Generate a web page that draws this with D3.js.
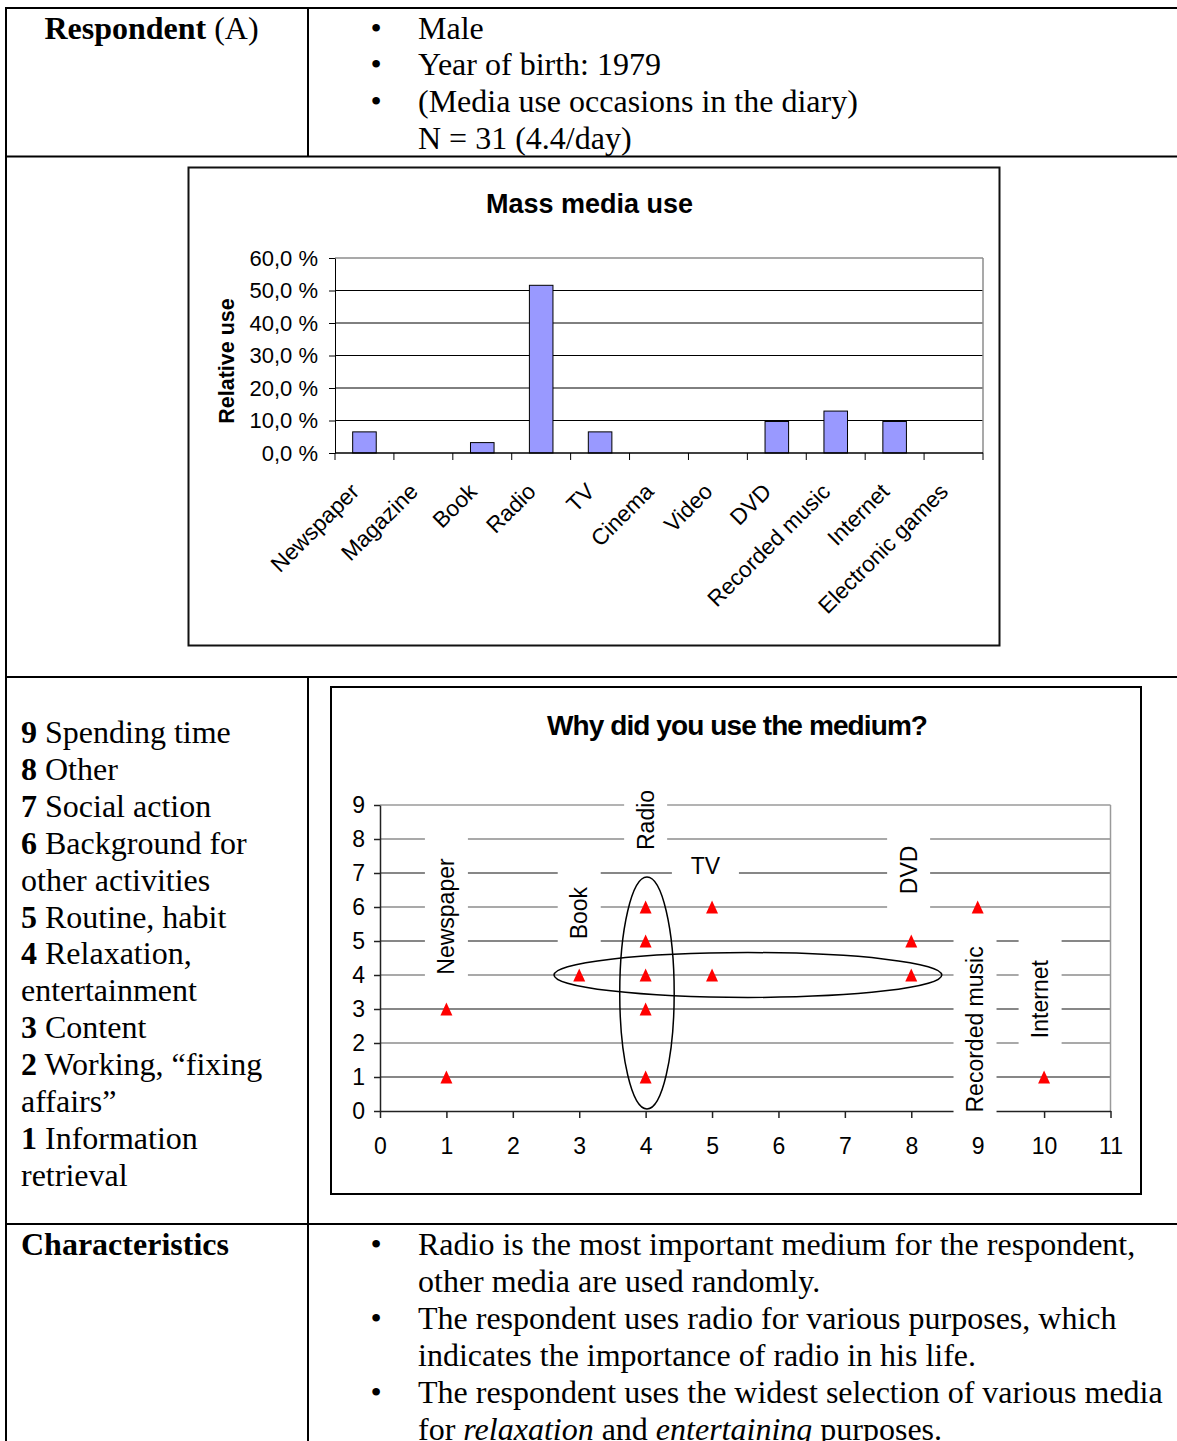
<!DOCTYPE html>
<html>
<head>
<meta charset="utf-8">
<script src="https://cdn.jsdelivr.net/npm/d3@7"></script>
<style>
  html, body { margin: 0; padding: 0; background: #fff; }
  svg { display: block; }
</style>
</head>
<body>
<svg id="page" width="1177" height="1441"></svg>
<script>
// ---------------- data ----------------
const respondentFacts = ["Male", "Year of birth: 1979", "(Media use occasions in the diary)"];
const respondentCount = "N = 31 (4.4/day)";

const mediaCategories = ["Newspaper", "Magazine", "Book", "Radio", "TV", "Cinema",
  "Video", "DVD", "Recorded music", "Internet", "Electronic games"];
const relativeUse = [6.5, 0, 3.2, 51.6, 6.5, 0, 0, 9.7, 12.9, 9.7, 0];
const useTicks = [0, 10, 20, 30, 40, 50, 60];

const reasonCodes = [9, 8, 7, 6, 5, 4, 3, 2, 1];
const reasonLabels = ["Spending time", "Other", "Social action", "Background for|other activities",
  "Routine, habit", "Relaxation,|entertainment", "Content", "Working, \u201cfixing|affairs\u201d",
  "Information|retrieval"];

// each diary entry: medium number (x) and reason code (y)
const entryMedium = [1, 1, 3, 4, 4, 4, 4, 4, 5, 5, 8, 8, 9, 10];
const entryReason = [1, 3, 4, 1, 3, 4, 5, 6, 4, 6, 4, 5, 6, 1];
const mediumTicks = d3.range(0, 12);
const reasonTicks = d3.range(0, 10);

// medium names written into the plot
const mediumNames = ["Newspaper", "Book", "Radio", "TV", "DVD", "Recorded music", "Internet"];
const mediumNameX = [1, 3, 4, 4.9, 7.96, 8.96, 9.94];
const mediumNameY = [5.72, 5.82, 8.56, 7.2, 7.09, 2.4, 3.29];
const mediumNameVertical = [true, true, true, false, true, true, true];

// highlighted groups (centre and radii in data units)
const groupCx = [4.02, 5.54];
const groupCy = [3.47, 4.0];
const groupRx = [0.41, 2.92];
const groupRy = [3.41, 0.66];

const characteristics = [
  [[{t: "Radio is the most important medium for the respondent,"}], [{t: "other media are used randomly."}]],
  [[{t: "The respondent uses radio for various purposes, which"}], [{t: "indicates the importance of radio in his life."}]],
  [[{t: "The respondent uses the widest selection of various media"}],
   [{t: "for "}, {t: "relaxation", i: true}, {t: " and "}, {t: "entertaining", i: true}, {t: " purposes."}]]
];

// ---------------- page setup ----------------
const SERIF = "'Liberation Serif','Times New Roman',Times,serif";
const SANS = "'Liberation Sans',Arial,Helvetica,sans-serif";
const serifSize = 32, lineStep = 36.9;

const svg = d3.select("#page");

function serifLine(x, y, runs, anchor) {
  const t = svg.append("text")
    .attr("x", x).attr("y", y)
    .attr("font-family", SERIF).attr("font-size", serifSize)
    .attr("text-anchor", anchor || "start").attr("fill", "#000");
  runs.forEach(r => t.append("tspan").text(r.t)
    .attr("font-weight", r.b ? "bold" : null)
    .attr("font-style", r.i ? "italic" : null));
  return t;
}
function bullet(x, y) { serifLine(x, y, [{t: "\u2022"}], "middle"); }

// table rules
const rule = svg.append("g").attr("stroke", "#000").attr("stroke-width", 2);
[[6, 8, 1177, 8], [6, 156.5, 1177, 156.5], [6, 677, 1177, 677], [6, 1224, 1177, 1224],
 [6, 7, 6, 1441], [308, 8, 308, 156.5], [308, 677, 308, 1441]]
  .forEach(l => rule.append("line").attr("x1", l[0]).attr("y1", l[1]).attr("x2", l[2]).attr("y2", l[3]));

// header row
const topBase = 38.5;
serifLine(151.5, topBase, [{t: "Respondent", b: true}, {t: " (A)"}], "middle");
respondentFacts.forEach((f, i) => { bullet(376, topBase + i * lineStep); serifLine(418, topBase + i * lineStep, [{t: f}]); });
serifLine(418, topBase + 3 * lineStep, [{t: respondentCount}]);

// reason legend
let legendLine = 0;
reasonCodes.forEach((c, i) => {
  reasonLabels[i].split("|").forEach((part, j) => {
    const runs = j === 0 ? [{t: String(c), b: true}, {t: " " + part}] : [{t: part}];
    serifLine(21, 743 + legendLine * lineStep, runs);
    legendLine++;
  });
});

// characteristics
serifLine(21, 1255, [{t: "Characteristics", b: true}]);
let charLine = 0;
characteristics.forEach(item => {
  bullet(376, 1255 + charLine * lineStep);
  item.forEach(runs => { serifLine(418, 1255 + charLine * lineStep, runs); charLine++; });
});

// ---------------- bar chart: Mass media use ----------------
const bar = svg.append("g");
bar.append("rect").attr("x", 188.5).attr("y", 167.5).attr("width", 811).attr("height", 478)
  .attr("fill", "#fff").attr("stroke", "#111").attr("stroke-width", 2);

const bx = d3.scaleBand().domain(mediaCategories).range([335, 983]).padding(0);
const by = d3.scaleLinear().domain([0, 60]).range([453, 258]);

// grid
bar.append("g").selectAll("line").data(useTicks.filter(d => d > 0)).join("line")
  .attr("x1", 335).attr("x2", 983).attr("y1", d => by(d)).attr("y2", d => by(d))
  .attr("stroke", d => d === 60 ? "#8c8c8c" : "#000").attr("stroke-width", d => d === 60 ? 1.5 : 1);
bar.append("line").attr("x1", 983).attr("x2", 983).attr("y1", by(60)).attr("y2", by(0))
  .attr("stroke", "#8c8c8c").attr("stroke-width", 1.5);

// bars
const barW = bx.bandwidth() / 2.5;
bar.append("g").selectAll("rect").data(mediaCategories.map((c, i) => ({c, v: relativeUse[i]})).filter(d => d.v > 0))
  .join("rect")
  .attr("x", d => bx(d.c) + bx.bandwidth() / 2 - barW / 2)
  .attr("y", d => by(d.v)).attr("width", barW).attr("height", d => by(0) - by(d.v))
  .attr("fill", "#9999ff").attr("stroke", "#000").attr("stroke-width", 1);

// y axis
const yAxisG = bar.append("g").attr("transform", "translate(335,0)")
  .call(d3.axisLeft(by).tickValues(useTicks).tickSize(6).tickSizeOuter(0).tickPadding(11)
    .tickFormat(d => d.toFixed(1).replace(".", ",") + " %"));
yAxisG.selectAll("text").attr("font-family", SANS).attr("font-size", 22).attr("fill", "#000");
yAxisG.selectAll("line, path").attr("stroke", "#000");

// x axis with ticks on category boundaries
bar.append("line").attr("x1", 335).attr("x2", 983).attr("y1", by(0)).attr("y2", by(0)).attr("stroke", "#000").attr("stroke-width", 1.5);
const boundaries = mediaCategories.map(c => bx(c)).concat([bx.range()[1]]);
bar.append("g").selectAll("line").data(boundaries).join("line")
  .attr("x1", d => d).attr("x2", d => d).attr("y1", by(0)).attr("y2", by(0) + 7).attr("stroke", "#000");
bar.append("g").selectAll("text").data(mediaCategories).join("text")
  .attr("transform", d => `translate(${bx(d) + bx.bandwidth() / 2 - 4},493) rotate(-45)`)
  .attr("text-anchor", "end").attr("font-family", SANS).attr("font-size", 22.5).text(d => d);

// titles
bar.append("text").attr("x", 589.5).attr("y", 213).attr("text-anchor", "middle")
  .attr("font-family", SANS).attr("font-weight", "bold").attr("font-size", 27).text("Mass media use");
bar.append("text").attr("transform", "translate(226,361) rotate(-90)").attr("dy", "0.35em")
  .attr("text-anchor", "middle").attr("font-family", SANS).attr("font-weight", "bold")
  .attr("font-size", 21.5).text("Relative use");

// ---------------- scatter: Why did you use the medium? ----------------
const sc = svg.append("g");
sc.append("rect").attr("x", 331).attr("y", 687).attr("width", 810).attr("height", 507)
  .attr("fill", "#fff").attr("stroke", "#000").attr("stroke-width", 2);

const sx = d3.scaleLinear().domain([0, 11]).range([380, 1110.5]);
const sy = d3.scaleLinear().domain([0, 9]).range([1111, 805]);

// grid
sc.append("g").selectAll("line").data(reasonTicks.filter(d => d > 0)).join("line")
  .attr("x1", sx(0)).attr("x2", sx(11)).attr("y1", d => sy(d)).attr("y2", d => sy(d))
  .attr("stroke", d => d === 9 ? "#9a9a9a" : (d % 2 ? "#111" : "#555"))
  .attr("stroke-width", d => d === 9 ? 1.5 : 1.2);
sc.append("line").attr("x1", sx(11)).attr("x2", sx(11)).attr("y1", sy(9)).attr("y2", sy(0))
  .attr("stroke", "#9a9a9a").attr("stroke-width", 1.5);

// axes
const sxAxis = sc.append("g").attr("transform", `translate(0,${sy(0)})`)
  .call(d3.axisBottom(sx).tickValues(mediumTicks).tickSize(7).tickSizeOuter(0).tickPadding(20));
const syAxis = sc.append("g").attr("transform", `translate(${sx(0)},0)`)
  .call(d3.axisLeft(sy).tickValues(reasonTicks).tickSize(6).tickSizeOuter(0).tickPadding(9));
[sxAxis, syAxis].forEach(a => {
  a.selectAll("text").attr("font-family", SANS).attr("font-size", 23).attr("fill", "#000");
  a.selectAll("line, path").attr("stroke", "#222").attr("stroke-width", 1.5);
});

// medium name labels on white boxes
mediumNames.forEach((name, i) => {
  const g = sc.append("g").attr("transform",
    `translate(${sx(mediumNameX[i])},${sy(mediumNameY[i])})` + (mediumNameVertical[i] ? " rotate(-90)" : ""));
  const box = g.append("rect").attr("fill", "#fff");
  const t = g.append("text").attr("text-anchor", "middle").attr("dy", "0.35em")
    .attr("font-family", SANS).attr("font-size", 23).attr("fill", "#000").text(name);
  const w = t.node().getBBox().width;
  const padAlong = mediumNameVertical[i] ? 22 : 18.5;
  const thick = mediumNameVertical[i] ? 43 : 34;
  box.attr("x", -w / 2 - padAlong).attr("width", w + 2 * padAlong)
    .attr("y", -thick / 2).attr("height", thick);
});

// highlighted groups
sc.append("g").selectAll("ellipse").data(groupCx).join("ellipse")
  .attr("cx", d => sx(d)).attr("cy", (d, i) => sy(groupCy[i]))
  .attr("rx", (d, i) => sx(groupRx[i]) - sx(0)).attr("ry", (d, i) => sy(0) - sy(groupRy[i]))
  .attr("fill", "none").attr("stroke", "#000").attr("stroke-width", 1.5);

// entries as red triangles
const tallTriangle = {
  draw(ctx, size) {
    const h = Math.sqrt(size) * 1.04, w = Math.sqrt(size) * 0.96;
    ctx.moveTo(0, -h / 2); ctx.lineTo(w / 2, h / 2); ctx.lineTo(-w / 2, h / 2); ctx.closePath();
  }
};
sc.append("g").selectAll("path").data(entryMedium).join("path")
  .attr("transform", (d, i) => `translate(${sx(d)},${sy(entryReason[i])})`)
  .attr("d", d3.symbol(tallTriangle, 156)).attr("fill", "#ff0000");

sc.append("text").attr("x", 737).attr("y", 735).attr("text-anchor", "middle")
  .attr("font-family", SANS).attr("font-weight", "bold").attr("font-size", 28)
  .attr("letter-spacing", -0.9).text("Why did you use the medium?");
</script>
</body>
</html>
